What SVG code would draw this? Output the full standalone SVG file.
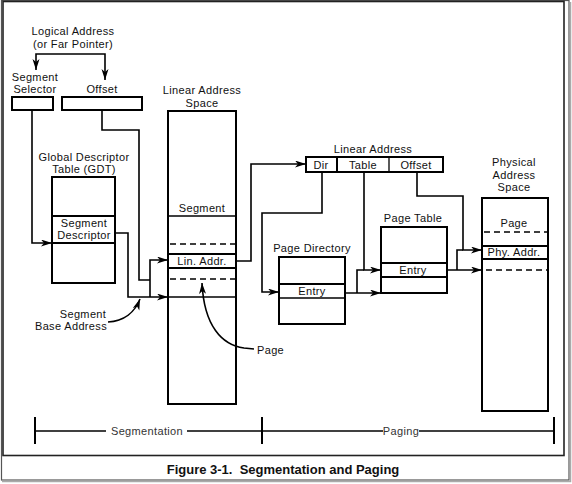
<svg xmlns="http://www.w3.org/2000/svg" width="572" height="484" viewBox="0 0 572 484">
<style>
text{font-family:"Liberation Sans",Arial,Helvetica,sans-serif;font-size:11px;letter-spacing:0.35px;fill:#111;text-anchor:middle}
.box{fill:#fff;stroke:#000;stroke-width:2}
.row{stroke:#000;stroke-width:2;fill:none}
.thin{stroke:#000;stroke-width:1.3;fill:none}
.dash{stroke:#000;stroke-width:1.5;fill:none;stroke-dasharray:6 4}
.con{stroke:#000;stroke-width:1.6;fill:none}
.arr{marker-end:url(#ah)}
.cap{font-weight:bold;font-size:13px;letter-spacing:0}
</style>
<defs>
<marker id="ah" markerUnits="userSpaceOnUse" markerWidth="12" markerHeight="8" refX="11" refY="3.5" orient="auto">
<path d="M0,0 L11,3.5 L0,7 L3,3.5 Z" fill="#000"/>
</marker>
</defs>
<rect x="0" y="0" width="572" height="484" fill="#fff"/>
<g id="outer-border">
<rect x="1.5" y="0.5" width="567.5" height="479.5" fill="none" stroke="#555" stroke-width="1.2"/>
<path d="M570.5,2 V481.5 H2" fill="none" stroke="#aaa" stroke-width="1.5"/>
<rect x="3" y="1.5" width="561" height="454" fill="none" stroke="#222" stroke-width="1.6"/>
</g>

<g id="logical-address">
<text x="73" y="35">Logical Address</text>
<text x="73" y="47.5">(or Far Pointer)</text>
</g>

<g id="segment-selector">
<text x="35" y="80.5">Segment</text>
<text x="35" y="93">Selector</text>
<rect class="box" x="12" y="97" width="41" height="13"/>
</g>

<g id="offset">
<text x="102" y="93">Offset</text>
<rect class="box" x="62" y="97" width="80" height="13"/>
</g>

<g id="gdt">
<text x="84" y="160.5">Global Descriptor</text>
<text x="84" y="173">Table (GDT)</text>
<rect class="box" x="52" y="177" width="63" height="106"/>
<line class="row" x1="52" y1="216" x2="115" y2="216"/>
<line class="row" x1="52" y1="243" x2="115" y2="243"/>
<text x="84" y="226.5">Segment</text>
<text x="84" y="239">Descriptor</text>
</g>

<g id="linear-address-space">
<text x="202" y="94">Linear Address</text>
<text x="202" y="106.5">Space</text>
<rect class="box" x="168" y="111" width="68" height="293"/>
<text x="202" y="212">Segment</text>
<line class="thin" x1="168" y1="216" x2="236" y2="216"/>
<line class="dash" x1="170" y1="244" x2="236" y2="244"/>
<line class="row" x1="168" y1="254" x2="236" y2="254"/>
<text x="202" y="265">Lin. Addr.</text>
<line class="row" x1="168" y1="268" x2="236" y2="268"/>
<line class="dash" x1="170" y1="279" x2="236" y2="279"/>
<line class="thin" x1="168" y1="297" x2="236" y2="297"/>
</g>

<g id="linear-address">
<text x="373" y="153">Linear Address</text>
<rect class="box" x="306" y="157" width="137" height="15"/>
<line class="row" x1="337" y1="157" x2="337" y2="172"/>
<line class="thin" x1="389" y1="157" x2="389" y2="172"/>
<text x="321" y="169">Dir</text>
<text x="363" y="169">Table</text>
<text x="416" y="169">Offset</text>
</g>

<g id="page-directory">
<text x="312" y="252">Page Directory</text>
<rect class="box" x="279" y="257" width="66" height="67"/>
<line class="row" x1="279" y1="284" x2="345" y2="284"/>
<line class="thin" x1="279" y1="298" x2="345" y2="298"/>
<text x="312" y="295">Entry</text>
</g>

<g id="page-table">
<text x="413" y="222">Page Table</text>
<rect class="box" x="381" y="227" width="66" height="66"/>
<line class="row" x1="381" y1="263" x2="447" y2="263"/>
<line class="row" x1="381" y1="277" x2="447" y2="277"/>
<text x="413" y="274">Entry</text>
</g>

<g id="physical-address-space">
<text x="514" y="166">Physical</text>
<text x="514" y="178.5">Address</text>
<text x="514" y="191">Space</text>
<rect class="box" x="482" y="198" width="66" height="213"/>
<text x="514" y="227">Page</text>
<line class="dash" x1="484" y1="232" x2="548" y2="232"/>
<line class="row" x1="482" y1="246" x2="548" y2="246"/>
<text x="514" y="256">Phy. Addr.</text>
<line class="row" x1="482" y1="259" x2="548" y2="259"/>
<line class="dash" x1="486" y1="270" x2="548" y2="270"/>
</g>

<g id="segment-base-label">
<text x="83" y="317.5">Segment</text>
<text x="71" y="330">Base Address</text>
</g>

<g id="page-label">
<text x="257" y="354" style="text-anchor:start">Page</text>
</g>

<g id="connectors">
<path class="con arr" d="M70,54 H36 V70"/>
<path class="con arr" d="M70,54 H105 V80"/>
<path class="con arr" d="M32,110 V243 H52"/>
<path class="con" d="M102,110 V130 H139 V280 H150"/>
<path class="con arr" d="M150,297 V260 H168"/>
<path class="con arr" d="M115,233 H128 V297 H168"/>
<path class="con arr" d="M236,261 H251 V164 H306"/>
<path class="con arr" d="M322,172 V213 H262 V292 H279"/>
<path class="con arr" d="M364,172 V270 H381"/>
<path class="con arr" d="M345,293 H381"/>
<path class="con" d="M357,293 V270 H364"/>
<path class="con arr" d="M417,172 V196 H463 V250 H482"/>
<path class="con" d="M463,250 H457 V270"/>
<path class="con arr" d="M447,270 H482"/>
<path class="con arr" d="M108,322 C124,321 135,312 140,299"/>
<path class="con arr" d="M254,349 L244,348 C222,345 204,326 202,283"/>
</g>

<g id="scale">
<line class="con" x1="35" y1="431" x2="106" y2="431"/>
<line class="con" x1="187" y1="431" x2="383" y2="431"/>
<line class="con" x1="419" y1="431" x2="554" y2="431"/>
<line class="row" x1="35" y1="417" x2="35" y2="444"/>
<line class="row" x1="262" y1="417" x2="262" y2="444"/>
<line class="row" x1="554" y1="417" x2="554" y2="444"/>
<text x="147" y="435" style="fill:#333">Segmentation</text>
<text x="401" y="435" style="fill:#333">Paging</text>
</g>

<g id="caption">
<text class="cap" x="283" y="474" xml:space="preserve">Figure 3-1.  Segmentation and Paging</text>
</g>
</svg>
